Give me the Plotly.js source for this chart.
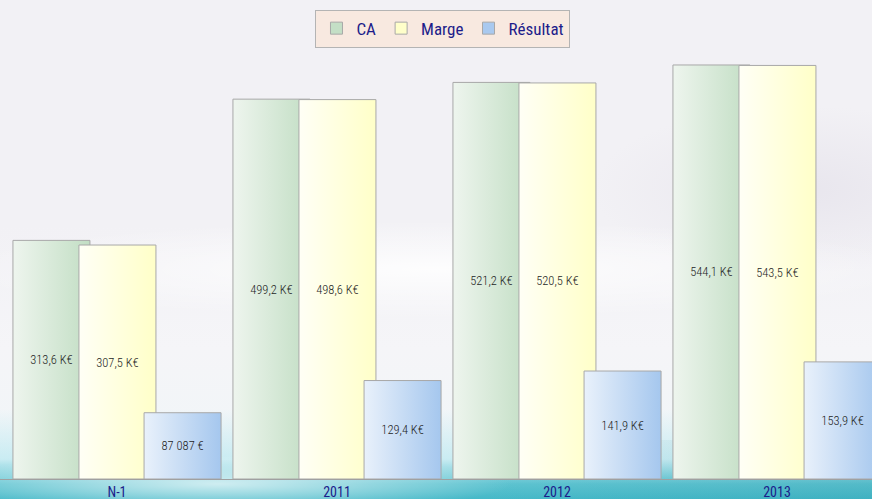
<!DOCTYPE html>
<html>
<head>
<meta charset="utf-8">
<script src="https://cdn.plot.ly/plotly-3.0.1.min.js"></script>
<style>
html,body{margin:0;padding:0;}
#wrap{position:relative;width:872px;height:499px;overflow:hidden;
background:
 radial-gradient(ellipse 420px 40px at 25% 97%, rgba(255,255,255,0.7), rgba(255,255,255,0) 70%),
 linear-gradient(to right, rgba(255,255,255,0) 0%, rgba(255,255,255,0) 55%, rgba(0,110,130,0.10) 100%) 0 440px / 100% 59px no-repeat,
 linear-gradient(to bottom, rgba(255,255,255,0) 0%, rgba(255,255,255,0) 82%, rgba(170,228,238,0.55) 92%, rgba(85,192,206,0.95) 97%, rgba(70,185,200,1) 100%),
 radial-gradient(ellipse 700px 70px at 50% 54%, rgba(255,255,255,0.85), rgba(255,255,255,0) 70%),
 radial-gradient(ellipse 300px 120px at 92% 38%, rgba(228,225,234,0.7), rgba(228,225,234,0) 70%),
 linear-gradient(to bottom, #f2f1f5 0%, #f2f1f5 45%, #f5f5f8 70%, #eef6f8 100%);}
#chart{position:absolute;left:0;top:0;width:872px;height:499px;}
</style>
</head>
<body>
<div id="wrap"><div id="chart"></div></div>
<script>
const categories = ["N-1", "2011", "2012", "2013"];
const caValues = [313.6, 499.2, 521.2, 544.1];
const margeValues = [307.5, 498.6, 520.5, 543.5];
const resultatValues = [87.087, 129.4, 141.9, 153.9];
const caLabels = ["313,6 K€", "499,2 K€", "521,2 K€", "544,1 K€"];
const margeLabels = ["307,5 K€", "498,6 K€", "520,5 K€", "543,5 K€"];
const resultatLabels = ["87 087 €", "129,4 K€", "141,9 K€", "153,9 K€"];
const seriesNames = ["CA", "Marge", "Résultat"];

const narrow = "Liberation Sans Narrow, Roboto Condensed, Roboto, sans-serif";
const lineStyle = {color: "#a8a8a8", width: 1};
const textFont = {family: narrow, size: 12.5, color: "#1e1e1e", weight: 350};
function barTrace(name, y, labels, color, offset) {
  return {
    type: "bar", name: name, x: categories, y: y, text: labels,
    textposition: "inside", insidetextanchor: "middle", textangle: 0,
    textfont: textFont, constraintext: "none",
    offset: offset, width: 0.35,
    marker: {color: color, line: lineStyle},
    hoverinfo: "none"
  };
}
const data = [
  barTrace(seriesNames[0], caValues, caLabels, "#c4dfc6", -0.473),
  barTrace(seriesNames[1], margeValues, margeLabels, "#ffffca", -0.173),
  barTrace(seriesNames[2], resultatValues, resultatLabels, "#a9c9ef", 0.123)
];
const layout = {
  width: 872, height: 499,
  margin: {l: 0, r: 0, t: 0, b: 20},
  paper_bgcolor: "rgba(0,0,0,0)", plot_bgcolor: "rgba(0,0,0,0)",
  barmode: "overlay",
  showlegend: true,
  legend: {orientation: "h", x: 0.508, xanchor: "center", y: 0.98, yanchor: "top",
    bgcolor: "#f8e9e0", bordercolor: "#b4b4b4", borderwidth: 1,
    font: {family: "Liberation Sans Narrow, Roboto Condensed, Arial, sans-serif", size: 17, color: "#1c1c8a"},
    traceorder: "normal", tracegroupgap: 0},
  xaxis: {type: "category", range: [-0.5318, 3.4318], showline: true, linecolor: "#a0a0a0",
    linewidth: 1, showgrid: false, zeroline: false, ticks: "",
    tickfont: {family: "Liberation Sans Narrow, Roboto Condensed, Roboto, sans-serif", size: 14, color: "#1c1c8a"},
    fixedrange: true},
  yaxis: {range: [0, 629.5], visible: false, showgrid: false, zeroline: false, fixedrange: true}
};

const gradStops = [["#eef5ee", "#c2dec4"], ["#fffff6", "#ffffc8"], ["#e9f1fb", "#a5c7ee"]];
function applyGradients(gd) {
  const svg = gd.querySelector("svg.main-svg");
  if (!svg) return;
  let defs = svg.querySelector("defs");
  if (!defs) { defs = document.createElementNS("http://www.w3.org/2000/svg", "defs"); svg.insertBefore(defs, svg.firstChild); }
  gradStops.forEach((s, i) => {
    if (svg.querySelector("#barGrad" + i)) return;
    const g = document.createElementNS("http://www.w3.org/2000/svg", "linearGradient");
    g.setAttribute("id", "barGrad" + i);
    g.setAttribute("x1", "0"); g.setAttribute("y1", "0"); g.setAttribute("x2", "1"); g.setAttribute("y2", "0");
    [[0, s[0]], [1, s[1]]].forEach(([o, c]) => {
      const st = document.createElementNS("http://www.w3.org/2000/svg", "stop");
      st.setAttribute("offset", o); st.setAttribute("stop-color", c);
      g.appendChild(st);
    });
    defs.appendChild(g);
  });
  gd.querySelectorAll(".barlayer .trace").forEach((tr, i) => {
    tr.querySelectorAll(".point path").forEach(p => { p.style.fill = "url(#barGrad" + i + ")"; });
  });
}
const gd = document.getElementById("chart");
Plotly.newPlot(gd, data, layout, {displayModeBar: false, staticPlot: true}).then(() => {
  applyGradients(gd);
  gd.on("plotly_afterplot", () => applyGradients(gd));
});
</script>
</body>
</html>
